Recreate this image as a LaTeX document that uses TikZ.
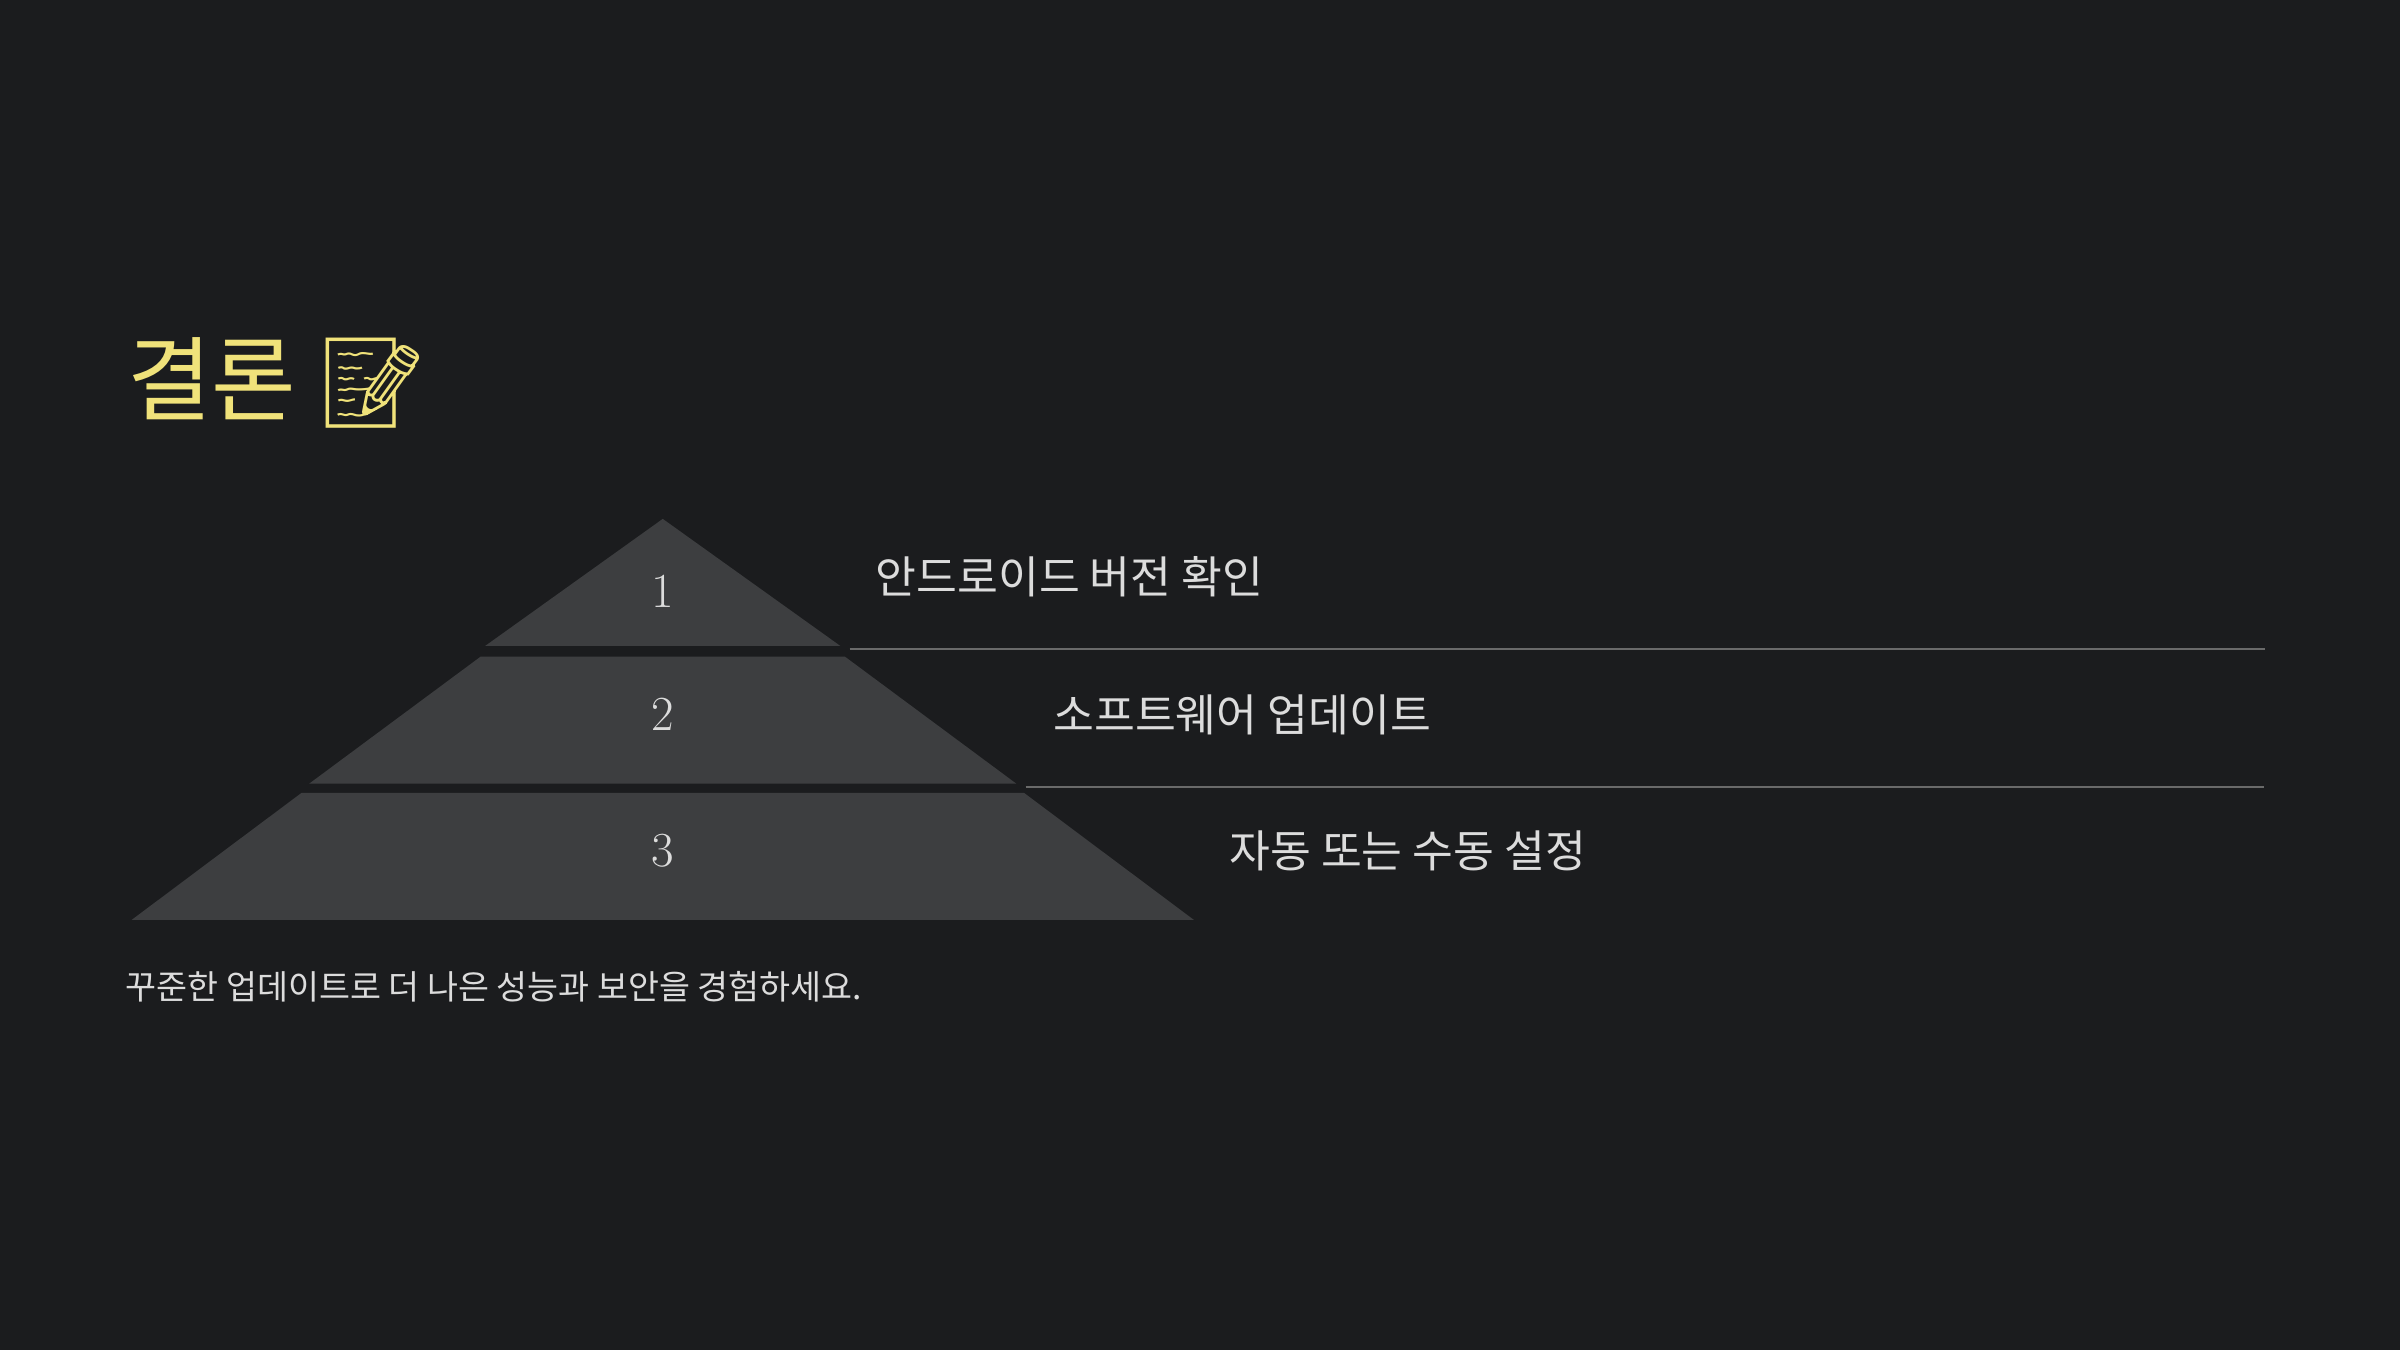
\documentclass[tikz,border=0pt]{standalone}
\usepackage{fontspec}
\newfontfamily\kr{Noto Sans CJK KR}
\newfontfamily\emo{Noto Emoji}
\definecolor{bg}{HTML}{1B1C1E}
\definecolor{tier}{HTML}{3D3E40}
\definecolor{txt}{HTML}{DCDCDC}
\definecolor{ttl}{HTML}{F0E27A}
\definecolor{rule}{HTML}{6A6A6A}
\tikzset{tierbox/.style={fill=tier,draw=none},
 lbl/.style={anchor=west,inner sep=0,text=txt,font=\kr\fontsize{29}{32}\selectfont},
 num/.style={text=txt,inner sep=0,font=\fontsize{32}{34}\selectfont},
 sep/.style={draw=rule,line width=1pt}}
\begin{document}
\begin{tikzpicture}[x=1pt,y=-1pt]
\fill[bg] (0,0) rectangle (1568,882);
\useasboundingbox (0,0) rectangle (1568,882);
\node[anchor=west,inner sep=0,text=ttl,font=\kr\fontsize{60}{64}\selectfont] (title) at (83,250) {결론 {\emo\fontsize{58}{60}\selectfont 📝}};
\fill[tierbox] (433,339) -- (549,422) -- (317,422) -- cycle;
\fill[tierbox] (314,429) -- (552,429) -- (664,512) -- (202,512) -- cycle;
\fill[tierbox] (197,518) -- (669,518) -- (780,601) -- (86,601) -- cycle;
\node[num] (n1) at (433,386) {1};
\node[num] (n2) at (433,467) {2};
\node[num] (n3) at (433,556) {3};
\node[lbl] (l1) at (572,377) {안드로이드 버전 확인};
\node[lbl] (l2) at (688,467) {소프트웨어 업데이트};
\node[lbl] (l3) at (803,556) {자동 또는 수동 설정};
\coordinate (a1) at (555,424); \coordinate (b1) at (1480,424);
\coordinate (a2) at (670,514); \coordinate (b2) at (1479,514);
\draw[sep] (a1) -- (b1);
\draw[sep] (a2) -- (b2);
\node[anchor=west,inner sep=0,text=txt,font=\kr\fontsize{22}{24}\selectfont] (foot) at (82,645) {꾸준한 업데이트로 더 나은 성능과 보안을 경험하세요.};
\end{tikzpicture}
\end{document}
